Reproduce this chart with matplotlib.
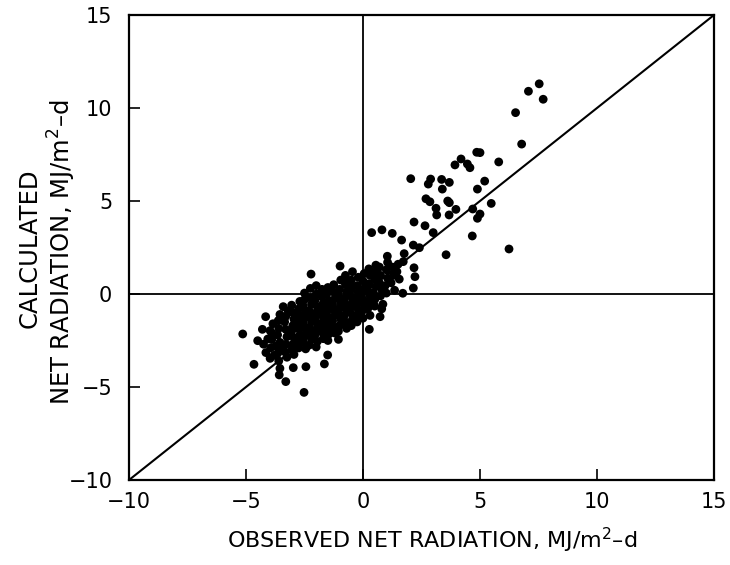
import matplotlib
matplotlib.use("Agg")
import matplotlib.pyplot as plt

# ---- data: observed (x) vs calculated (y) net radiation, MJ/m2-d ----
outer_obs = [7.07, 7.53, 7.70, 6.52, 6.78, 5.80, 4.86, 5.00, 4.19, 3.93,
             4.46, 4.57, 2.04, 2.89, 2.79, 3.36, 3.69, 3.39, 5.20, 4.89,
             2.69, 2.86, 3.62, 3.69, 3.12, 3.15, 3.97, 3.68, 4.69, 5.48,
             5.00, 4.89, 2.18, 2.65, 3.00, 0.81, 1.25, 0.37, 1.65, 2.15,
             2.41, 4.67, 6.24, 3.55, 1.04, 1.76, 2.18, 2.22, 2.15, 1.70,
             1.72, 1.37, -5.14, -4.66, -4.50, -4.16, -4.07, -3.97, -3.97, -3.72,
             -3.62, -2.22, -3.41, -2.52, -2.44, -2.98, -3.30, -3.58, -3.55, -3.60,
             -3.50, -1.65, -1.51, -0.98, -0.70, -0.56, -1.05, 0.27, 0.73, 0.80, 0.85]
outer_calc = [10.90, 11.30, 10.47, 9.75, 8.06, 7.10, 7.62, 7.60, 7.26, 6.94,
              6.99, 6.79, 6.20, 6.18, 5.91, 6.16, 6.00, 5.64, 6.07, 5.64,
              5.12, 4.96, 5.00, 4.91, 4.61, 4.25, 4.55, 4.25, 4.57, 4.87,
              4.30, 4.07, 3.87, 3.67, 3.30, 3.45, 3.26, 3.30, 2.90, 2.63,
              2.49, 3.12, 2.42, 2.11, 2.03, 2.17, 1.41, 0.93, 0.32, 0.04,
              1.74, 1.11, -2.15, -3.78, -2.51, -1.22, -2.42, -1.97, -3.46, -2.80,
              -1.43, 1.07, -0.68, -5.29, -3.91, -3.96, -4.71, -4.35, -4.00, -3.60,
              -3.00, -3.76, -3.28, 1.50, 0.66, 0.57, -2.44, -1.90, -1.22, -0.80, -0.55]

core_obs = [
    -4.25, -4.15, -4.30,
    -3.90, -3.85, -3.95, -3.80, -3.90,
    -3.65, -3.60, -3.55, -3.65, -3.55, -3.60,
    -3.35, -3.30, -3.25, -3.30, -3.35, -3.20, -3.30, -3.25,
    -3.05, -3.00, -2.95, -3.00, -3.05, -2.95, -3.00, -3.05, -2.95,
    -2.75, -2.70, -2.80, -2.75, -2.70, -2.80, -2.75, -2.70,
    -2.50, -2.55, -2.45, -2.50, -2.55, -2.45, -2.50, -2.55, -2.45, -2.50,
    -2.25, -2.20, -2.30, -2.25, -2.20, -2.30, -2.25, -2.20, -2.30, -2.25,
    -2.00, -2.05, -1.95, -2.00, -2.05, -1.95, -2.00, -2.05, -1.95, -2.00, -2.00,
    -1.75, -1.70, -1.80, -1.75, -1.70, -1.80, -1.75, -1.70, -1.75,
    -1.50, -1.55, -1.45, -1.50, -1.55, -1.45, -1.50, -1.55, -1.45, -1.50,
    -1.25, -1.20, -1.30, -1.25, -1.20, -1.30, -1.25, -1.20, -1.25,
    -1.00, -1.05, -0.95, -1.00, -1.05, -0.95, -1.00, -1.05, -0.95,
    -0.75, -0.70, -0.80, -0.75, -0.70, -0.80, -0.75, -0.70, -0.75,
    -0.50, -0.55, -0.45, -0.50, -0.55, -0.45, -0.50, -0.50, -0.45,
    -0.25, -0.20, -0.30, -0.25, -0.20, -0.30, -0.25, -0.20,
    0.00, 0.05, -0.05, 0.00, 0.05, -0.05, 0.00, 0.05,
    0.25, 0.20, 0.30, 0.25, 0.20, 0.30, 0.25, 0.30,
    0.50, 0.55, 0.45, 0.50, 0.55, 0.50, 0.55,
    0.75, 0.70, 0.80, 0.75, 0.70,
    1.00, 1.05, 0.95, 1.00, 1.05,
    1.25, 1.30, 1.20, 1.35,
    1.50, 1.45, 1.55,
]
core_calc = [
    -2.70, -3.15, -1.90,
    -2.45, -1.60, -2.90, -3.30, -2.10,
    -2.20, -1.85, -2.60, -3.20, -1.10, -2.95,
    -1.50, -1.90, -2.30, -2.70, -3.10, -0.90, -1.20, -3.40,
    -0.60, -1.00, -1.35, -1.70, -2.00, -2.35, -2.70, -3.00, -3.25,
    -0.80, -1.15, -1.50, -1.85, -2.20, -2.55, -2.90, -0.40,
    -0.30, -0.65, -1.00, -1.30, -1.60, -1.90, -2.25, -2.60, -2.95, 0.05,
    -0.20, -0.55, -0.90, -1.20, -1.50, -1.80, -2.10, -2.45, -2.75, 0.30,
    0.00, -0.35, -0.70, -1.00, -1.30, -1.60, -1.90, -2.20, -2.55, -2.85, 0.45,
    -0.15, -0.50, -0.85, -1.15, -1.45, -1.75, -2.05, -2.40, 0.25,
    0.35, 0.00, -0.35, -0.65, -0.95, -1.25, -1.55, -1.85, -2.15, -2.50,
    0.10, -0.25, -0.55, -0.85, -1.15, -1.45, -1.80, -2.10, 0.50,
    0.25, -0.10, -0.45, -0.75, -1.05, -1.35, -1.70, -2.00, 0.75,
    0.50, 0.10, -0.25, -0.55, -0.85, -1.15, -1.50, -1.85, 1.00,
    0.25, -0.10, -0.40, -0.70, -1.00, -1.35, -1.70, 0.75, 1.20,
    0.45, 0.10, -0.20, -0.50, -0.85, -1.15, -1.50, 0.90,
    0.70, 0.30, 0.00, -0.30, -0.60, -0.95, -1.30, 1.10,
    0.55, 0.20, -0.10, -0.45, -0.80, 1.00, 1.35, -1.15,
    0.80, 0.40, 0.05, -0.30, 1.20, -0.65, 1.55,
    1.00, 0.60, 0.25, -0.10, 1.45,
    1.30, 0.85, 0.45, 0.05, 1.70,
    1.45, 1.00, 0.60, 0.20,
    1.60, 1.20, 0.80,
]

ticks = [-10, -5, 0, 5, 10, 15]
axis_min, axis_max = -10, 15
xlabel = "OBSERVED NET RADIATION, MJ/m$^\\mathregular{2}$\u2013d"
ylabel_top = "CALCULATED"
ylabel_bottom = "NET RADIATION, MJ/m$^\\mathregular{2}$\u2013d"

# ---- figure ----
plt.rcParams['font.family'] = ['DejaVu Sans']
W, H = 730, 565
fig = plt.figure(figsize=(W / 100, H / 100), dpi=100)
ax = fig.add_axes([129 / W, 1 - 480 / H, (714 - 129) / W, (480 - 15) / H])

ax.set_xlim(axis_min, axis_max)
ax.set_ylim(axis_min, axis_max)

# 1:1 line and zero lines
ax.plot([axis_min, axis_max], [axis_min, axis_max], color='black', lw=1.5, zorder=2)
ax.axhline(0, color='black', lw=1.3, zorder=2)
ax.axvline(0, color='black', lw=1.3, zorder=2)

ax.scatter(outer_obs + core_obs, outer_calc + core_calc, s=40, color='black',
           edgecolors='none', zorder=3)

for sp in ax.spines.values():
    sp.set_linewidth(1.6)

ax.set_xticks(ticks)
ax.set_yticks(ticks)
ax.tick_params(axis='both', direction='in', length=8, width=1.2,
               labelsize=15, top=False, right=False)
ax.tick_params(axis='x', pad=9)
ax.tick_params(axis='y', pad=12)

fig.text(432 / W, 1 - 540 / H, xlabel, ha='center', va='center', fontsize=16)
fig.text(30 / W, 1 - 248 / H, ylabel_top, ha='center', va='center',
         rotation=90, fontsize=17.5)
fig.text(62 / W, 1 - 252 / H, ylabel_bottom, ha='center', va='center',
         rotation=90, fontsize=17.5)

fig.savefig("out.png", dpi=100)
